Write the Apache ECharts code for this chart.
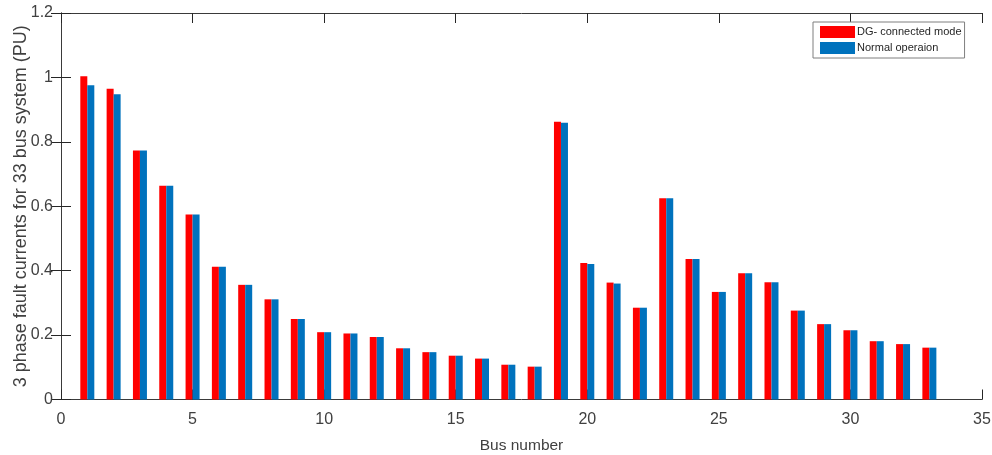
<!DOCTYPE html>
<html><head><meta charset="utf-8">
<script src="https://cdn.jsdelivr.net/npm/echarts@6/dist/echarts.min.js"></script>
<style>html,body{margin:0;padding:0;background:#fff}#c{width:992px;height:455px}</style>
</head><body><div id="c"></div>
<script>
var busNumbers = [1,2,3,4,5,6,7,8,9,10,11,12,13,14,15,16,17,18,19,20,21,22,23,24,25,26,27,28,29,30,31,32,33];
var dgConnected = [1.004,0.965,0.773,0.664,0.574,0.412,0.356,0.311,0.250,0.209,0.205,0.194,0.159,0.147,0.136,0.127,0.108,0.102,0.862,0.424,0.363,0.285,0.625,0.436,0.334,0.392,0.364,0.276,0.234,0.215,0.181,0.172,0.161];
var normalOp = [0.976,0.948,0.773,0.664,0.574,0.412,0.356,0.311,0.250,0.209,0.205,0.194,0.159,0.147,0.136,0.127,0.108,0.102,0.859,0.421,0.360,0.285,0.625,0.436,0.334,0.392,0.364,0.276,0.234,0.215,0.181,0.172,0.161];
var seriesNames = ['DG- connected mode','Normal operaion'];
var xTicks = [0,5,10,15,20,25,30,35];
var yTicks = [0,0.2,0.4,0.6,0.8,1,1.2];

function pairs(v){ return busNumbers.map(function(b,i){ return [b, v[i]]; }); }
var axisCol = '#3a3a3a', tickCol = '#262626', txtCol = '#404040', font = 'Liberation Sans';
var chart = echarts.init(document.getElementById('c'), null, {renderer:'canvas'});
var xCommon = {
  type:'value', min:xTicks[0], max:xTicks[xTicks.length-1], interval:5,
  axisLine:{show:true, onZero:false, lineStyle:{color:axisCol, width:1}},
  axisTick:{show:true, inside:true, length:10, lineStyle:{color:tickCol}},
  splitLine:{show:false}
};
var yCommon = {
  type:'value', min:yTicks[0], max:yTicks[yTicks.length-1], interval:0.2,
  axisLine:{show:true, lineStyle:{color:axisCol, width:1}},
  axisTick:{show:true, inside:true, length:10, lineStyle:{color:tickCol}},
  splitLine:{show:false}
};
chart.setOption({
  animation:false,
  backgroundColor:'#fff',
  textStyle:{fontFamily:font},
  grid:{left:61, right:10, top:13, bottom:55.5, containLabel:false, outerBoundsMode:'none'},
  legend:{
    left:813, top:22, orient:'vertical', itemWidth:35, itemHeight:12, itemGap:4,
    padding:[4,3,4,7], borderColor:'#7f7f7f', borderWidth:1, backgroundColor:'#fff',
    icon:'rect', textStyle:{fontSize:11, color:'#262626', padding:[0,0,0,-3]},
    data:seriesNames
  },
  xAxis:[
    Object.assign({}, xCommon, {position:'bottom', name:'Bus number', nameLocation:'middle', nameGap:38,
      nameTextStyle:{fontSize:15.5, color:txtCol},
      axisLabel:{show:true, fontSize:16, color:txtCol, margin:12}}),
    Object.assign({}, xCommon, {position:'top', axisLabel:{show:false}})
  ],
  yAxis:[
    Object.assign({}, yCommon, {position:'left', name:'3 phase fault currents for 33 bus system (PU)',
      nameLocation:'middle', nameGap:31, nameMoveOverlap:false, nameTextStyle:{fontSize:18, color:txtCol},
      axisLabel:{show:true, fontSize:16, color:txtCol, margin:8}}),
    Object.assign({}, yCommon, {position:'right', axisLabel:{show:false}})
  ],
  series:[
    {name:seriesNames[0], type:'bar', xAxisIndex:0, yAxisIndex:0, data:pairs(dgConnected),
     barWidth:7, barGap:'0%', itemStyle:{color:'#ff0000'}},
    {name:seriesNames[1], type:'bar', xAxisIndex:0, yAxisIndex:0, data:pairs(normalOp),
     barWidth:7, barGap:'0%', itemStyle:{color:'#0072bd'}}
  ]
});
</script></body></html>
